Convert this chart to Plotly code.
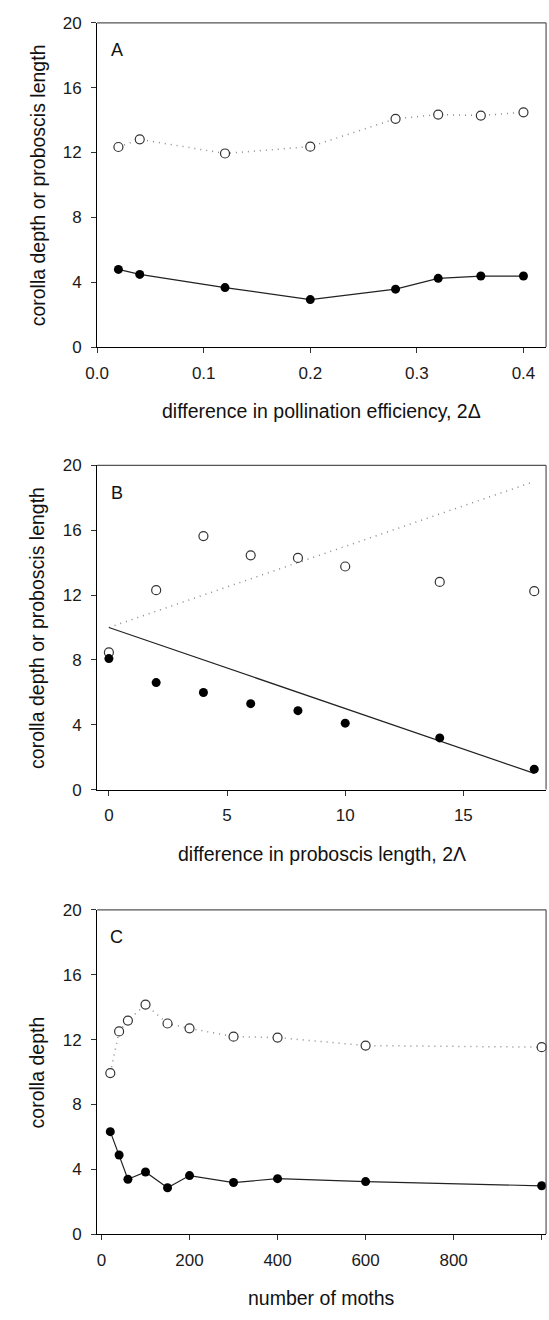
import plotly.graph_objects as go

W, H = 549, 1320
FONT = "Liberation Sans, Arial, sans-serif"

# ---------- data ----------
# Panel A
a_x = [0.02, 0.04, 0.12, 0.20, 0.28, 0.32, 0.36, 0.40]
a_open = [12.34, 12.81, 11.94, 12.36, 14.08, 14.34, 14.28, 14.48]
a_filled = [4.79, 4.48, 3.67, 2.93, 3.57, 4.24, 4.38, 4.38]
# Panel B
b_x = [0, 2, 4, 6, 8, 10, 14, 18]
b_open = [8.46, 12.30, 15.64, 14.45, 14.29, 13.76, 12.81, 12.24]
b_filled = [8.08, 6.60, 5.99, 5.30, 4.87, 4.10, 3.19, 1.26]
b_line_x = [0, 18]
b_line_up = [10, 19]
b_line_down = [10, 1]
# Panel C
c_x = [20, 40, 60, 100, 150, 200, 300, 400, 600, 1000]
c_open = [9.93, 12.50, 13.17, 14.16, 12.99, 12.69, 12.18, 12.12, 11.63, 11.53]
c_filled = [6.32, 4.88, 3.38, 3.83, 2.86, 3.61, 3.18, 3.42, 3.24, 2.98]

y_ticks = [0, 4, 8, 12, 16, 20]
a_ticks = [0.0, 0.1, 0.2, 0.3, 0.4]
b_ticks = [0, 5, 10, 15]
c_ticks = [0, 200, 400, 600, 800, 1000]

x_titles = ["difference in pollination efficiency, 2\u0394",
            "difference in proboscis length, 2\u039b",
            "number of moths"]
y_titles = ["corolla depth or proboscis length",
            "corolla depth or proboscis length",
            "corolla depth"]
panel_labels = ["A", "B", "C"]

# ---------- layout geometry (pixels) ----------
px_left, px_right = 87, 546
panels_px = [(14, 343), (463, 792), (914, 1243)]  # top, bottom
x_ranges = [[0.0, 0.4212], [-0.5, 18.5], [-10, 1010]]
x_tickvals = [a_ticks, b_ticks, c_ticks]
x_fmt = [".1f", "d", "d"]

def fy(py):
    return 1 - py / H

def fx(px):
    return px / W

fig = go.Figure()

open_marker = dict(symbol="circle", size=9, color="white",
                   line=dict(color="#333333", width=1.2))
filled_marker = dict(symbol="circle", size=9, color="black",
                     line=dict(color="black", width=0))
dot_line = dict(color="#8a8a8a", width=1.5, dash="1px,5px")
solid_line = dict(color="#222222", width=1.2)

common = dict(cliponaxis=False)
# Panel A
fig.add_trace(go.Scatter(x=a_x, y=a_open, mode="lines+markers", line=dot_line,
                         marker=open_marker, xaxis="x", yaxis="y", **common))
fig.add_trace(go.Scatter(x=a_x, y=a_filled, mode="lines+markers", line=solid_line,
                         marker=filled_marker, xaxis="x", yaxis="y", **common))
# Panel B
fig.add_trace(go.Scatter(x=b_line_x, y=b_line_up, mode="lines", line=dot_line,
                         xaxis="x2", yaxis="y2"))
fig.add_trace(go.Scatter(x=b_line_x, y=b_line_down, mode="lines", line=solid_line,
                         xaxis="x2", yaxis="y2"))
fig.add_trace(go.Scatter(x=b_x, y=b_open, mode="markers",
                         marker=open_marker, xaxis="x2", yaxis="y2", **common))
fig.add_trace(go.Scatter(x=b_x, y=b_filled, mode="markers",
                         marker=filled_marker, xaxis="x2", yaxis="y2", **common))
# Panel C
fig.add_trace(go.Scatter(x=c_x, y=c_open, mode="lines+markers", line=dot_line,
                         marker=open_marker, xaxis="x3", yaxis="y3", **common))
fig.add_trace(go.Scatter(x=c_x, y=c_filled, mode="lines+markers", line=solid_line,
                         marker=filled_marker, xaxis="x3", yaxis="y3", **common))

layout = dict(
    width=W, height=H,
    autosize=False,
    margin=dict(l=0, r=0, t=0, b=0, pad=0),
    paper_bgcolor="white", plot_bgcolor="white",
    showlegend=False,
    font=dict(family=FONT, size=17, color="#1a1a1a"),
)

annotations = []
shapes = []
for i in range(3):
    top, bot = panels_px[i]
    sfx = "" if i == 0 else str(i + 1)
    layout["xaxis" + sfx] = dict(
        domain=[fx(px_left), fx(px_right)], anchor="y" + sfx,
        range=x_ranges[i], tickvals=x_tickvals[i], tickformat=x_fmt[i],
        showgrid=False, zeroline=False, showline=True, linecolor="black",
        linewidth=1.2, ticks="outside", ticklen=5, tickcolor="#333",
        ticklabelstandoff=5,
        tickfont=dict(size=17, family=FONT, color="#1a1a1a"),
    )
    layout["yaxis" + sfx] = dict(
        domain=[fy(bot), fy(top)], anchor="x" + sfx,
        range=[0, 20], tickvals=y_ticks,
        showgrid=False, zeroline=False, showline=True, linecolor="black",
        linewidth=1.2, ticks="outside", ticklen=5, tickcolor="#333",
        ticklabelstandoff=6,
        tickfont=dict(size=17, family=FONT, color="#1a1a1a"),
    )
    # top & right frame lines (gray)
    shapes.append(dict(type="line", xref="paper", yref="paper",
                       x0=fx(px_left), x1=fx(px_right), y0=fy(top), y1=fy(top),
                       line=dict(color="#555555", width=1.2)))
    shapes.append(dict(type="line", xref="paper", yref="paper",
                       x0=fx(px_right), x1=fx(px_right), y0=fy(top), y1=fy(bot),
                       line=dict(color="#555555", width=1.2)))
    # panel letter
    annotations.append(dict(text=panel_labels[i], xref="paper", yref="paper",
                            x=fx(107), y=fy(top + 28), showarrow=False,
                            xanchor="center", yanchor="middle",
                            font=dict(size=18, family=FONT, color="#111")))
    # x title
    annotations.append(dict(text=x_titles[i], xref="paper", yref="paper",
                            x=fx((px_left + px_right) / 2), y=fy(bot + 65),
                            showarrow=False, xanchor="center", yanchor="middle",
                            font=dict(size=19.5, family=FONT, color="#111")))
    # y title
    annotations.append(dict(text=y_titles[i], xref="paper", yref="paper",
                            x=fx(26), y=fy((top + bot) / 2), textangle=-90,
                            showarrow=False, xanchor="center", yanchor="middle",
                            font=dict(size=19.5, family=FONT, color="#111")))

layout["annotations"] = annotations
layout["shapes"] = shapes
fig.update_layout(**layout)

fig.write_html(
    "out.html",
    config={"displayModeBar": False, "responsive": False},
    post_script="document.body.style.margin='0';document.body.style.overflow='hidden';",
)
